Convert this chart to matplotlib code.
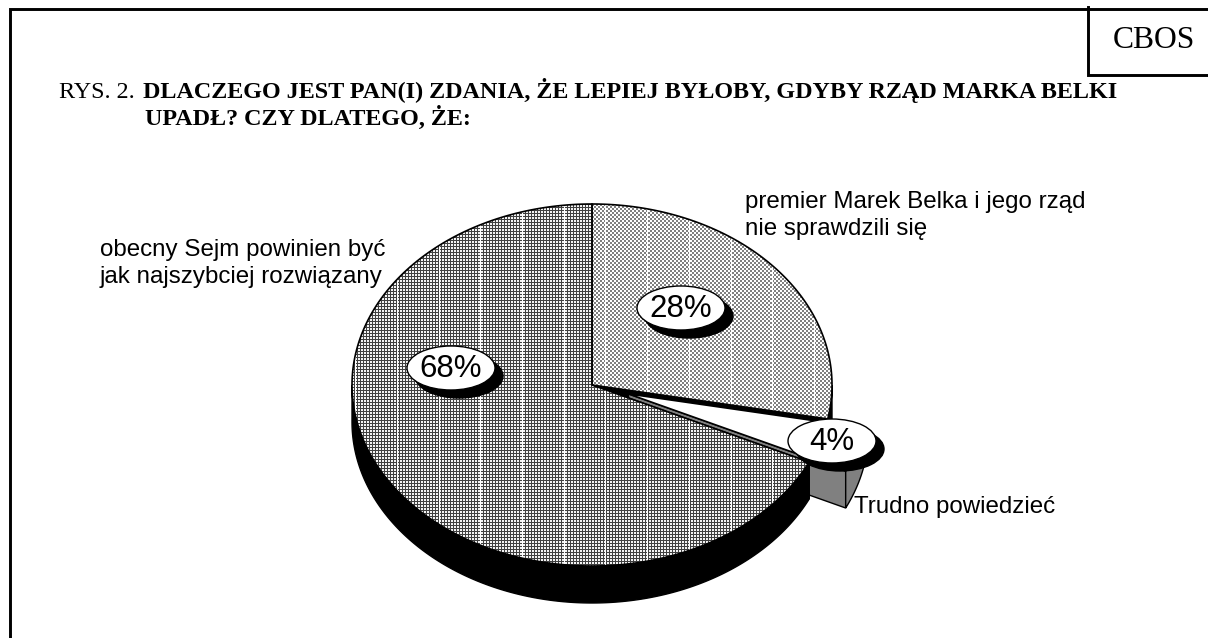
import numpy as np
import matplotlib
matplotlib.use("Agg")
import matplotlib.pyplot as plt
from matplotlib.patches import Polygon, Ellipse

# wartosci z rysunku (zgodnie z ruchem wskazowek od gory)
labels = ["premier Marek Belka i jego rząd\nnie sprawdzili się",
          "Trudno powiedzieć",
          "obecny Sejm powinien być\njak najszybciej rozwiązany"]
shares = [28, 4, 68]
pct_labels = ["28%", "4%", "68%"]
title_1 = "RYS. 2."
title_2 = "DLACZEGO JEST PAN(I) ZDANIA, ŻE LEPIEJ BYŁOBY, GDYBY RZĄD MARKA BELKI"
title_3 = "UPADŁ? CZY DLATEGO, ŻE:"

W, H = 1208, 638
CX, CY = 592, 385
RX, RY = 240, 181
DEPTH = 37
EXPLODE = 0.16
SERIF = "Liberation Serif"
SANS = "Liberation Sans"


def arc(t0, t1, cx, cy, n=200):
    t = np.radians(np.linspace(t0, t1, n))
    return np.column_stack([cx + RX * np.sin(t), cy - RY * np.cos(t)])


def texture(kind):
    yy, xx = np.mgrid[0:H, 0:W]
    if kind == "grid":
        img = np.where((yy % 3 == 0) | (xx % 3 == 0), 0.25, 0.95)
    else:
        img = np.where(((xx // 2) + (yy // 2)) % 2 == 0, 0.5, 1.0)
    # jasne pionowe paski
    img[:, (xx[0] - 605) % 41.7 < 1] = 1.0
    return img


def draw_wedge(ax, t0, t1, cx, cy, wall, face, z, edge_wall="black"):
    top = arc(t0, t1, cx, cy)
    vis = arc(max(t0, 90), min(t1, 270), cx, cy)
    # sciana boczna: bok promieniowy + luk
    if t0 >= 90 and t0 < 180:
        rad = np.array([[cx, cy], top[0], top[0] + [0, DEPTH], [cx, cy + DEPTH]])
        ax.add_patch(Polygon(rad, closed=True, fc=wall, ec=edge_wall, lw=1, zorder=z))
    if t1 > 90 and t1 < 180:
        rad = np.array([[cx, cy], top[-1], top[-1] + [0, DEPTH], [cx, cy + DEPTH]])
        ax.add_patch(Polygon(rad, closed=True, fc=wall, ec=edge_wall, lw=1, zorder=z))
    side = np.vstack([vis, (vis + [0, DEPTH])[::-1]])
    ax.add_patch(Polygon(side, closed=True, fc=wall, ec=edge_wall, lw=1, zorder=z))
    pts = np.vstack([[cx, cy], top])
    if isinstance(face, str) and face in ("grid", "check"):
        poly = Polygon(pts, closed=True, fc="none", ec="black", lw=1.2, zorder=z + 0.2)
        ax.add_patch(poly)
        im = ax.imshow(texture(face), cmap="gray", vmin=0, vmax=1, extent=(0, W, H, 0),
                       interpolation="nearest", zorder=z + 0.1, aspect="auto")
        im.set_clip_path(poly)
    else:
        ax.add_patch(Polygon(pts, closed=True, fc=face, ec="black", lw=1.2, zorder=z + 0.2))


def pct_label(ax, x, y, text):
    ax.add_patch(Ellipse((x + 8, y + 8), 88, 44, fc="black", ec="black", zorder=6))
    ax.add_patch(Ellipse((x, y), 88, 44, fc="white", ec="black", lw=1, zorder=7))
    ax.text(x, y + 1, text, ha="center", va="center", family=SANS, fontsize=22.5, zorder=8)


def side_label(ax, x, y, text):
    for i, line in enumerate(text.split("\n")):
        ax.text(x, y + 27 * i, line, ha="left", va="baseline", family=SANS, fontsize=17.4, zorder=9)


fig = plt.figure(figsize=(W / 100, H / 100), dpi=100)
ax = fig.add_axes([0, 0, 1, 1])
ax.set_xlim(0, W)
ax.set_ylim(H, 0)
ax.axis("off")

# ramka
ax.plot([10, 10, W], [H, 9, 9], color="black", lw=2.1, solid_joinstyle="miter")
ax.plot([1088, 1088, W], [7, 75, 75], color="black", lw=2.1, solid_joinstyle="miter")
ax.text(1153.5, 41, "CBOS", ha="center", va="center", family=SERIF, fontsize=22.8)

# tytul
ax.text(59, 98, title_1, ha="left", va="baseline", family=SERIF, fontsize=17.4)
ax.text(143, 98, title_2, ha="left", va="baseline", family=SERIF, fontsize=17.4, fontweight="bold")
ax.text(145, 125, title_3, ha="left", va="baseline", family=SERIF, fontsize=17.4, fontweight="bold")

# wycinki pizzy: katy z udzialow
a0 = 0
a1 = a0 + shares[0] * 3.6
a2 = a1 + shares[1] * 3.6
a3 = a2 + shares[2] * 3.6
mid = np.radians((a1 + a2) / 2)
ex = CX + EXPLODE * RX * np.sin(mid)
ey = CY - EXPLODE * RY * np.cos(mid)

draw_wedge(ax, a0, a1, CX, CY, "black", "check", 2)
draw_wedge(ax, a1, a2, ex, ey, "#808080", "white", 3)
draw_wedge(ax, a2, a3, CX, CY, "black", "grid", 4)

pct_label(ax, 681, 308, pct_labels[0])
pct_label(ax, 832, 441, pct_labels[1])
pct_label(ax, 451, 368, pct_labels[2])

side_label(ax, 745, 208, labels[0])
side_label(ax, 854, 513, labels[1])
side_label(ax, 100, 256, labels[2])

fig.savefig("out.png", dpi=100)
